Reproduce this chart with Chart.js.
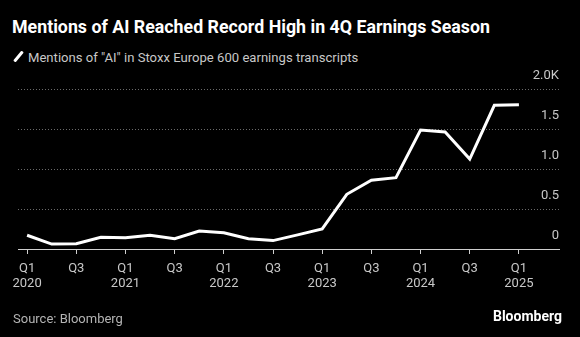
<!DOCTYPE html>
<html>
<head>
<meta charset="utf-8">
<script src="https://cdn.jsdelivr.net/npm/chart.js@4"></script>
<style>
  html, body { margin: 0; padding: 0; background: #000; }
  body { width: 580px; height: 337px; position: relative; overflow: hidden; font-family: "Roboto", sans-serif; }
  #title { position: absolute; left: 12px; top: 16px; color: #fff; font-weight: bold; font-size: 17.8px; white-space: nowrap; }
  #legend { position: absolute; left: 13px; top: 50px; color: #c8c8c8; font-size: 13.1px; white-space: nowrap; }
  #legend i { display: inline-block; width: 3px; height: 13px; background: #fff; transform: rotate(40deg); margin: 0 8px -1px 4px; border-radius: 1px; }
  #source { position: absolute; left: 13px; top: 311px; color: #b4b4b4; font-size: 13px; }
  #logo { position: absolute; right: 18px; top: 308px; color: #fff; font-weight: bold; font-size: 14px; }
  #wrap { position: absolute; left: 0; top: 0; width: 580px; height: 337px; }
</style>
</head>
<body>
<div id="title">Mentions of AI Reached Record High in 4Q Earnings Season</div>
<div id="legend"><i></i>Mentions of "AI" in Stoxx Europe 600 earnings transcripts</div>
<div id="wrap"><canvas id="myChart" width="580" height="337"></canvas></div>
<div id="source">Source: Bloomberg</div>
<div id="logo">Bloomberg</div>
<script>
// quarterly mentions
var quarters = ["Q1 2020", "Q2 2020", "Q3 2020", "Q4 2020",
                "Q1 2021", "Q2 2021", "Q3 2021", "Q4 2021",
                "Q1 2022", "Q2 2022", "Q3 2022", "Q4 2022",
                "Q1 2023", "Q2 2023", "Q3 2023", "Q4 2023",
                "Q1 2024", "Q2 2024", "Q3 2024", "Q4 2024",
                "Q1 2025"];
var mentions = [172, 62, 66, 146, 142, 171, 129, 224, 202, 129, 105, 177, 252, 684, 860, 892, 1488, 1463, 1125, 1796, 1804];
var yTicks = ["0", "0.5", "1.0", "1.5", "2.0K"];

function xLabel(i) {
  var parts = quarters[i].split(" ");
  if (parts[0] == "Q1") return [parts[0], parts[1]];
  if (parts[0] == "Q3") return parts[0];
  return "";
}

new Chart("myChart", {
  type: "line",
  data: {
    datasets: [{
      data: mentions.map(function(v, i) { return {x: i, y: v}; }),
      borderColor: "#fff",
      borderWidth: 3,
      pointRadius: 0,
      tension: 0,
      fill: false
    }]
  },
  options: {
    responsive: false,
    animation: false,
    devicePixelRatio: 1,
    layout: {padding: {left: 18, right: 21, top: 89, bottom: 48}},
    plugins: {legend: {display: false}, tooltip: {enabled: false}},
    scales: {
      x: {
        type: "linear",
        min: -0.37,
        max: 21.63,
        afterBuildTicks: function(axis) {
          var t = [];
          for (var i = 0; i < quarters.length; i += 2) t.push({value: i});
          axis.ticks = t;
        },
        afterFit: function(axis) { axis.height = 40; },
        grid: {drawOnChartArea: false, drawTicks: true, tickLength: 5, color: "#cfcfcf"},
        border: {display: true, color: "#cfcfcf", width: 1},
        ticks: {
          color: "#c8c8c8",
          font: {family: "Roboto", size: 13, lineHeight: 1.15},
          padding: 7,
          maxRotation: 0,
          autoSkip: false,
          callback: function(v) { return xLabel(v); }
        }
      },
      y: {
        position: "right",
        min: 0,
        max: 2000,
        afterBuildTicks: function(axis) {
          axis.ticks = yTicks.map(function(_, i) { return {value: i * 500}; });
        },
        afterFit: function(axis) { axis.width = 0; },
        grid: {color: "#6a6a6a", drawTicks: false, lineWidth: 1},
        border: {display: false, dash: [1, 2]},
        ticks: {
          mirror: true,
          padding: 0,
          labelOffset: -13,
          color: "#c8c8c8",
          font: {family: "Roboto", size: 13},
          callback: function(v) { return yTicks[v / 500]; }
        }
      }
    }
  }
});
</script>
</body>
</html>
